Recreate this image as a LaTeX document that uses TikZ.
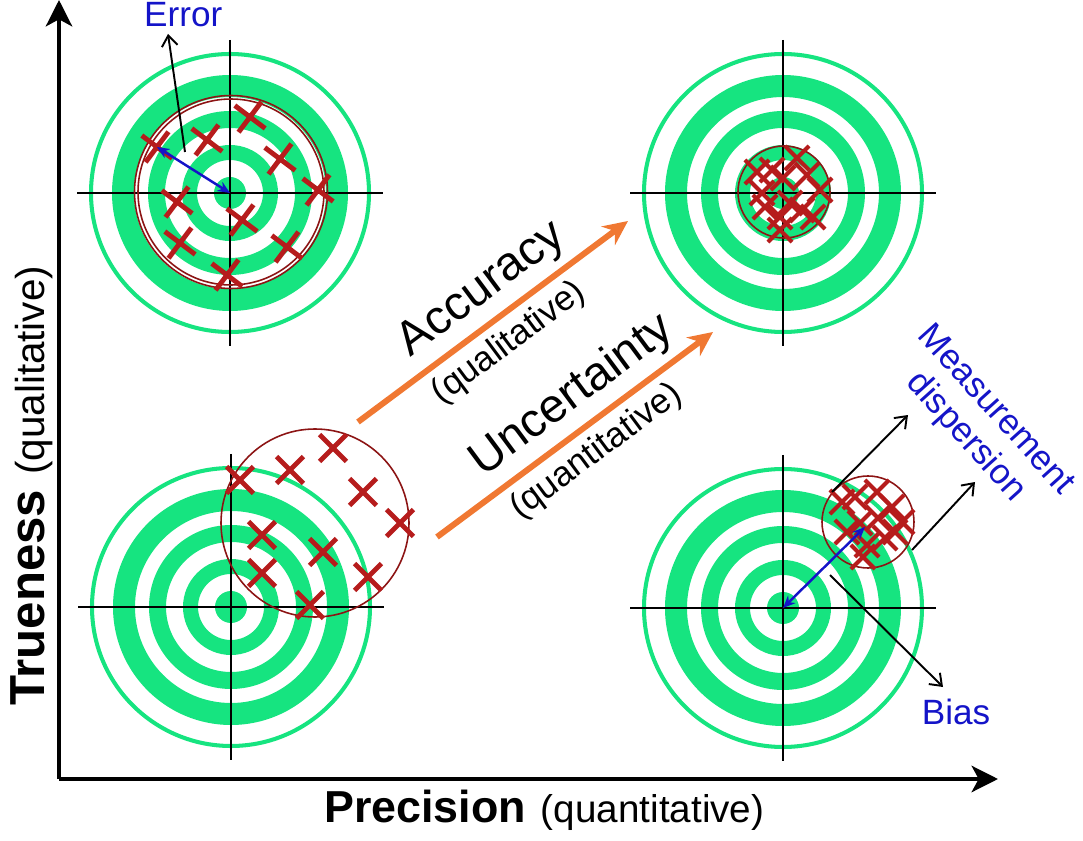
\documentclass[tikz,border=0pt]{standalone}
\usepackage{fontspec}
\setmainfont{Liberation Sans}
\usetikzlibrary{arrows.meta,shapes.misc}

\definecolor{ringgreen}{RGB}{22,228,128}
\definecolor{hitred}{RGB}{182,28,28}
\definecolor{spreadred}{RGB}{140,20,20}
\definecolor{noteblue}{RGB}{20,20,200}
\definecolor{trendorange}{RGB}{240,120,50}

\tikzset{
  hit/.style={cross out,draw=hitred,line width=2.8pt,minimum size=0.44cm,inner sep=0pt},
  smallhit/.style={hit,line width=2.3pt,minimum size=0.4cm},
  spread/.style={draw=spreadred,line width=0.9pt},
  trend/.style={draw=trendorange,line width=3.4pt,-{Stealth[length=14pt,width=13pt]}},
  note/.style={draw=black,line width=1.1pt,-{Straight Barb[length=6pt,width=9pt]}},
  offset/.style={draw=noteblue,line width=1.4pt,{Stealth[length=7pt,width=6pt]}-{Stealth[length=7pt,width=6pt]}},
  bluetxt/.style={text=noteblue,font=\fontsize{20}{23}\selectfont},
  bigtxt/.style={font=\fontsize{27}{30}\selectfont},
  subtxt/.style={font=\fontsize{20}{23}\selectfont},
}

\begin{document}
\begin{tikzpicture}[x=0.02cm,y=-0.02cm]
  \useasboundingbox (0,0) rectangle (1083,841);

  % target centres
  \coordinate (tl) at (230,193);
  \coordinate (tr) at (783,193);
  \coordinate (bl) at (231,607);
  \coordinate (br) at (783,608);

  % rings and cross hairs
  \foreach \c in {tl,tr,bl,br} {
    \fill[ringgreen] (\c) circle (16);
    \fill[ringgreen,even odd rule] (\c) circle (48) (\c) circle (33);
    \fill[ringgreen,even odd rule] (\c) circle (82) (\c) circle (65);
    \fill[ringgreen,even odd rule] (\c) circle (118) (\c) circle (96);
    \draw[ringgreen,line width=2.3pt] (\c) circle (139);
    \draw[line width=0.7pt] (\c) ++(-153,0) -- ++(306,0);
    \draw[line width=0.7pt] (\c) ++(0,-153) -- ++(0,306);
  }

  % spread circles
  \draw[spread] (231,192) circle (93) (231,192) circle (96.5);
  \draw[spread] (784,192) circle (46);
  \draw[spread] (315,523) circle (94);
  \draw[spread] (868,522) circle (46);

  % hits
  \foreach \p [count=\i] in {(157,147),(207,140),(250,117),(280,159),(318,190),
                            (177,202),(242,220),(180,243),(287,247),(227,275)}
    \node[hit,rotate=8] (tlhit\i) at \p {};
  \foreach \p [count=\i] in {(240,480),(290,470),(333,448),(363,492),(400,523),
                            (262,535),(323,552),(262,573),(368,577),(310,605)}
    \node[hit] (blhit\i) at \p {};
  \foreach \p [count=\i] in {(757,172),(772,170),(783,178),(797,158),(807,175),(820,190),
                            (762,193),(765,207),(780,217),(790,203),(802,210),(813,217),(780,230)}
    \node[smallhit] (trhit\i) at \p {};
  \foreach \p [count=\i] in {(842,502),(855,497),(877,492),(892,507),(902,522),(847,532),
                            (860,523),(878,518),(885,538),(867,545),(863,557),(895,532)}
    \node[smallhit] (brhit\i) at \p {};

  % axes
  \coordinate (origin) at (59,779);
  \coordinate (ytip) at (59,0);
  \coordinate (xtip) at (998,779);
  \draw[line width=2.3pt,-{Stealth[length=15pt,width=15pt,inset=4pt]}] (origin) -- (ytip);
  \draw[line width=2.3pt,-{Stealth[length=15pt,width=15pt,inset=4pt]}] (origin) -- (xtip);
  \node[anchor=base west] (xlbl) at (318,822)
    {\fontsize{25.5}{30}\selectfont\bfseries Precision\hspace{0.3cm}{\fontsize{22}{26}\selectfont\mdseries (quantitative)}};
  \node[anchor=base west,rotate=90] (ylbl) at (45,712)
    {\fontsize{28}{32}\selectfont\bfseries Trueness\hspace{0.3cm}{\fontsize{23}{27}\selectfont\mdseries (qualitative)}};

  % orange arrows
  \coordinate (acc0) at (358,422);
  \coordinate (acc1) at (628,221);
  \coordinate (unc0) at (437,537);
  \coordinate (unc1) at (713,332);
  \draw[trend] (acc0) -- node[pos=0.53,sloped,above=1pt,bigtxt] (acclbl) {Accuracy}
                         node[pos=0.50,sloped,below=1pt,subtxt] (accsub) {(qualitative)} (acc1);
  \draw[trend] (unc0) -- node[pos=0.56,sloped,above=1pt,bigtxt] (unclbl) {Uncertainty}
                         node[pos=0.52,sloped,below=1pt,subtxt] (uncsub) {(quantitative)} (unc1);

  % error
  \node[bluetxt,anchor=base west] (errlbl) at (138,27) {Error};
  \coordinate (err0) at (185,152);
  \coordinate (err1) at (168,34);
  \draw[note] (err0) -- (err1);
  \draw[offset] (157,147) coordinate (errhit) -- (tl);

  % bias and dispersion
  \node[bluetxt] (biaslbl) at (956,712) {Bias};
  \node[bluetxt,rotate=-48,align=center] (displbl) at (980,424) {Measurement\\dispersion};
  \coordinate (disp0) at (832,492);
  \coordinate (disp1) at (908,415);
  \coordinate (disp2) at (912,550);
  \coordinate (disp3) at (975,482);
  \coordinate (bias0) at (830,575);
  \coordinate (bias1) at (943,687);
  \coordinate (brmean) at (865,527);
  \draw[note] (disp0) -- (disp1);
  \draw[note] (disp2) -- (disp3);
  \draw[note] (bias0) -- (bias1);
  \draw[offset] (br) -- (brmean);
\end{tikzpicture}
\end{document}
